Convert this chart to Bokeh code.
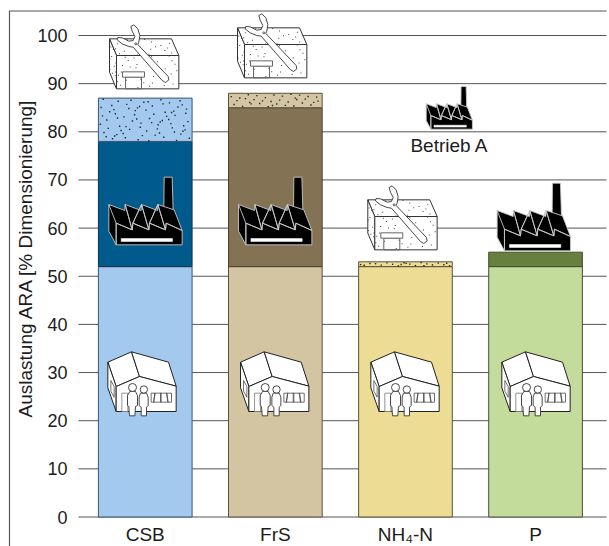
from bokeh.plotting import figure
from bokeh.models import Range1d, FixedTicker
from bokeh.embed import file_html
from bokeh.resources import INLINE
from bokeh.core.properties import value
from math import pi

categories = ["CSB", "FrS", "NH₄-N", "P"]
haushalte = [52, 52, 52, 52]
betrieb_a = [26, 33, 0, 3]
gewerbe = [9, 3, 1, 0]
y_ticks = [0, 10, 20, 30, 40, 50, 60, 70, 80, 90, 100]
color_light = ["#a3caee", "#d3c5a1", "#eddc93", "#c3db9b"]
color_dark = ["#005b8c", "#847254", "#e0cf80", "#677f3f"]
color_edge = ["#3a5570", "#5a5040", "#5a5638", "#44503a"]
color_dark_edge = ["#12334d", "#4a4032", "#5a5638", "#3f4f28"]
FONT = "Liberation Sans"
TXT = "#1c1c1c"


def X(px):
    return (px - 144.75) / 130.1


def Y(py):
    return (516.5 - py) / 4.815


p = figure(width=609, height=546, output_backend="svg", toolbar_location=None,
           x_range=Range1d(X(0), X(609)), y_range=Range1d(Y(546), Y(0)),
           min_border_left=0, min_border_right=0, min_border_top=0, min_border_bottom=0)
p.outline_line_color = None
p.xgrid.visible = False
p.ygrid.visible = False
for ax in (p.xaxis[0], p.yaxis[0]):
    ax.axis_line_color = None
    ax.major_tick_line_color = None
    ax.minor_tick_line_color = None
    ax.major_tick_in = 0
    ax.major_tick_out = 0
    ax.major_label_text_color = TXT
    ax.major_label_text_font = FONT
p.yaxis[0].major_label_text_font_size = "18px"
p.xaxis[0].major_label_text_font_size = "19px"
p.yaxis[0].ticker = FixedTicker(ticks=y_ticks)
p.yaxis[0].fixed_location = X(78)
p.yaxis[0].major_label_standoff = 11
p.xaxis[0].ticker = FixedTicker(ticks=[0, 1, 2, 3])
p.xaxis[0].major_label_overrides = {i: c for i, c in enumerate(categories)}
p.xaxis[0].fixed_location = 0
p.xaxis[0].major_label_standoff = 7

# top and left edges of the surrounding frame of the source figure
p.line([X(606), X(9), X(9)], [Y(10.5), Y(10.5), Y(546)], line_color="#555555", line_width=1.2)
# horizontal grid lines at the y ticks
p.segment(x0=[X(78)] * len(y_ticks), x1=[X(606)] * len(y_ticks), y0=y_ticks, y1=y_ticks,
          line_color="#555555", line_width=1)

p.text([X(25)], [Y(257.5)], text=["Auslastung ARA [% Dimensionierung]"], angle=pi / 2,
       text_font=value(FONT), text_font_size="19px", text_color=TXT,
       text_align="center", text_baseline="middle")

xs = [0, 1, 2, 3]
b1 = haushalte
b2 = [a + b for a, b in zip(b1, betrieb_a)]
b3 = [a + b for a, b in zip(b2, gewerbe)]
W = 0.72
p.vbar(x=xs, bottom=0, top=b1, width=W, fill_color=color_light, line_color=color_edge)
idx = [i for i in xs if betrieb_a[i] > 0]
p.vbar(x=idx, bottom=[b1[i] for i in idx], top=[b2[i] for i in idx], width=W,
       fill_color=[color_dark[i] for i in idx], line_color=[color_dark_edge[i] for i in idx])
idx = [i for i in xs if gewerbe[i] > 0]
p.vbar(x=idx, bottom=[b2[i] for i in idx], top=[b3[i] for i in idx], width=W,
       fill_color=[color_light[i] for i in idx], line_color=[color_edge[i] for i in idx])


def vdc(k, base):
    f, r = 1.0, 0.0
    while k > 0:
        f /= base
        r += f * (k % base)
        k //= base
    return r


def stipple(n, start=7):
    """Halton texture points for the stippled fills (decoration only)."""
    return [(vdc(k, 2), vdc(k, 3)) for k in range(start, start + n)]


sx, sy = [], []
for i in idx:
    n = int(gewerbe[i] * 7) + 14
    for u, v in stipple(n, 11 + 17 * i):
        sx.append(i - W / 2 + 0.01 + u * (W - 0.02))
        sy.append(b2[i] + 0.12 + v * (gewerbe[i] - 0.24))
p.scatter(sx, sy, marker="square", size=1.4, color="#1d2a30", line_width=0)


def poly(pts, dx, dy, scale=1.0, ox=0.0, oy=0.0, **kw):
    p.patch([X(ox + (a / 3 - ox) * scale + dx) for a, b in pts],
            [Y(oy + (b / 3 - oy) * scale + dy) for a, b in pts], **kw)


def circ(cx, cy, r, dx, dy, **kw):
    p.circle([X(cx / 3 + dx)], [Y(cy / 3 + dy)], radius=r / 3 / 130.1, radius_dimension="x", **kw)


def house(dx):
    dy = 280
    k = dict(fill_color="white", line_color="#222222", line_width=1)
    poly([(322, 245), (393, 214), (417, 288), (347, 318)], dx, dy, **k)
    poly([(393, 214), (504, 245), (527, 317), (417, 288)], dx, dy, **k)
    poly([(322, 245), (347, 318), (347, 393), (322, 322)], dx, dy, **k)
    poly([(347, 318), (417, 288), (527, 317), (527, 393), (347, 393)], dx, dy, **k)
    w = dict(fill_color="white", line_color="#333333", line_width=0.7)
    poly([(452, 338), (513, 338), (513, 365), (452, 365)], dx, dy, **w)
    poly([(480, 338), (482, 338), (482, 365), (480, 365)], dx, dy, **w)
    poly([(463, 338), (464, 338), (460, 365), (459, 365)], dx, dy, **w)
    poly([(498, 338), (499, 338), (503, 365), (502, 365)], dx, dy, **w)
    poly([(364, 338), (382, 338), (382, 393), (364, 393)], dx, dy, fill_color="white",
         line_color="#777777", line_width=0.8)
    poly([(331, 300), (341, 318), (341, 350), (331, 332)], dx, dy, **w)
    k2 = dict(fill_color="white", line_color="#333333", line_width=0.9)
    poly([(381, 345), (388, 333), (405, 333), (411, 345), (411, 375), (405, 378), (403, 406),
          (387, 406), (385, 378), (381, 375)], dx, dy, **k2)
    poly([(416, 350), (420, 338), (438, 338), (443, 350), (443, 375), (438, 380), (438, 406),
          (422, 406), (422, 380), (416, 375)], dx, dy, **k2)
    circ(396, 321, 12, dx, dy, **k2)
    circ(430, 327, 11, dx, dy, **k2)


def factory(dx, dy, scale=1.0):
    ox, oy = 108.3, 175.0
    kw = dict(scale=scale, ox=ox, oy=oy)
    e = dict(line_color="#c8c8c8", line_width=0.9)
    poly([(491, 530), (515, 530), (518, 632), (490, 622)], dx, dy, fill_color="black", **e, **kw)
    poly([(325, 612), (373, 630), (374, 612), (422, 630), (423, 612), (471, 630), (472, 612),
          (521, 628), (545, 690), (545, 733), (347, 733), (325, 692)], dx, dy,
         fill_color="black", **e, **kw)
    zig = [(325, 612), (347, 668), (395, 688), (374, 612), (395, 688), (397, 668), (423, 612),
           (397, 668), (445, 688), (423, 612), (445, 688), (447, 668), (472, 612), (447, 668),
           (495, 688), (472, 612), (495, 688), (497, 668), (545, 690), (497, 668), (495, 688),
           (447, 668), (445, 688), (397, 668), (395, 688), (347, 668), (347, 733), (347, 668)]
    p.line([X(ox + (a / 3 - ox) * scale + dx) for a, b in zig],
           [Y(oy + (b / 3 - oy) * scale + dy) for a, b in zig], line_color="#c8c8c8", line_width=0.9)
    poly([(362, 714), (516, 714), (516, 723), (362, 723)], dx, dy, fill_color="white",
         line_color="white", line_width=0.5, **kw)


def workshop(dx, dy):
    k = dict(fill_color="white", line_color="#333333", line_width=1)
    top = [(327, 115), (513, 115), (535, 165), (348, 165)]
    left = [(327, 115), (348, 165), (348, 265), (327, 215)]
    front = [(348, 165), (535, 165), (535, 265), (348, 265)]
    poly(top, dx, dy, **k)
    poly(left, dx, dy, **k)
    poly(front, dx, dy, **k)
    dxs, dys = [], []
    for face, n in ((top, 20), (front, 36), (left, 10)):
        a, b, c, d = face
        for u, v in stipple(n):
            if face is left:
                ax = a[0] + (b[0] - a[0]) * u
                ay = a[1] + (b[1] - a[1]) * u + 100 * v
            else:
                ax = a[0] + (b[0] - a[0]) * u + (d[0] - a[0]) * v
                ay = a[1] + (d[1] - a[1]) * v
            dxs.append(X(ax / 3 + dx))
            dys.append(Y(ay / 3 + dy))
    p.scatter(dxs, dys, marker="square", size=1, color="#444444", line_width=0)
    poly([(375, 230), (423, 230), (423, 265), (375, 265)], dx, dy, fill_color=None,
         line_color="#666666", line_width=1)
    poly([(366, 214), (432, 214), (432, 230), (366, 230)], dx, dy, fill_color="white",
         line_color="#666666", line_width=1)
    poly([(391, 78), (400, 73), (412, 85), (418, 105), (415, 125), (412, 132), (503, 228), (505, 238),
          (495, 246), (485, 240), (398, 140), (385, 138), (365, 130), (350, 118), (352, 111), (365, 112),
          (385, 122), (398, 120), (403, 108), (395, 92)], dx, dy, fill_color="white",
         line_color="#333333", line_width=0.9)
    circ(406, 130, 3, dx, dy, fill_color="white", line_color="#333333", line_width=0.8)


house(0)
house(132.7)
house(263)
house(394)
factory(0, 0)
factory(129.7, 0)
factory(388.3, 6)
factory(317.4, -90, scale=0.63)
workshop(0, 0)
workshop(128, -11)
workshop(258.3, 161)

p.text([X(449)], [Y(145)], text=["Betrieb A"], text_font=value(FONT), text_font_size="19px",
       text_color=TXT, text_align="center", text_baseline="middle")

open("out.html", "w").write(file_html(p, INLINE))
